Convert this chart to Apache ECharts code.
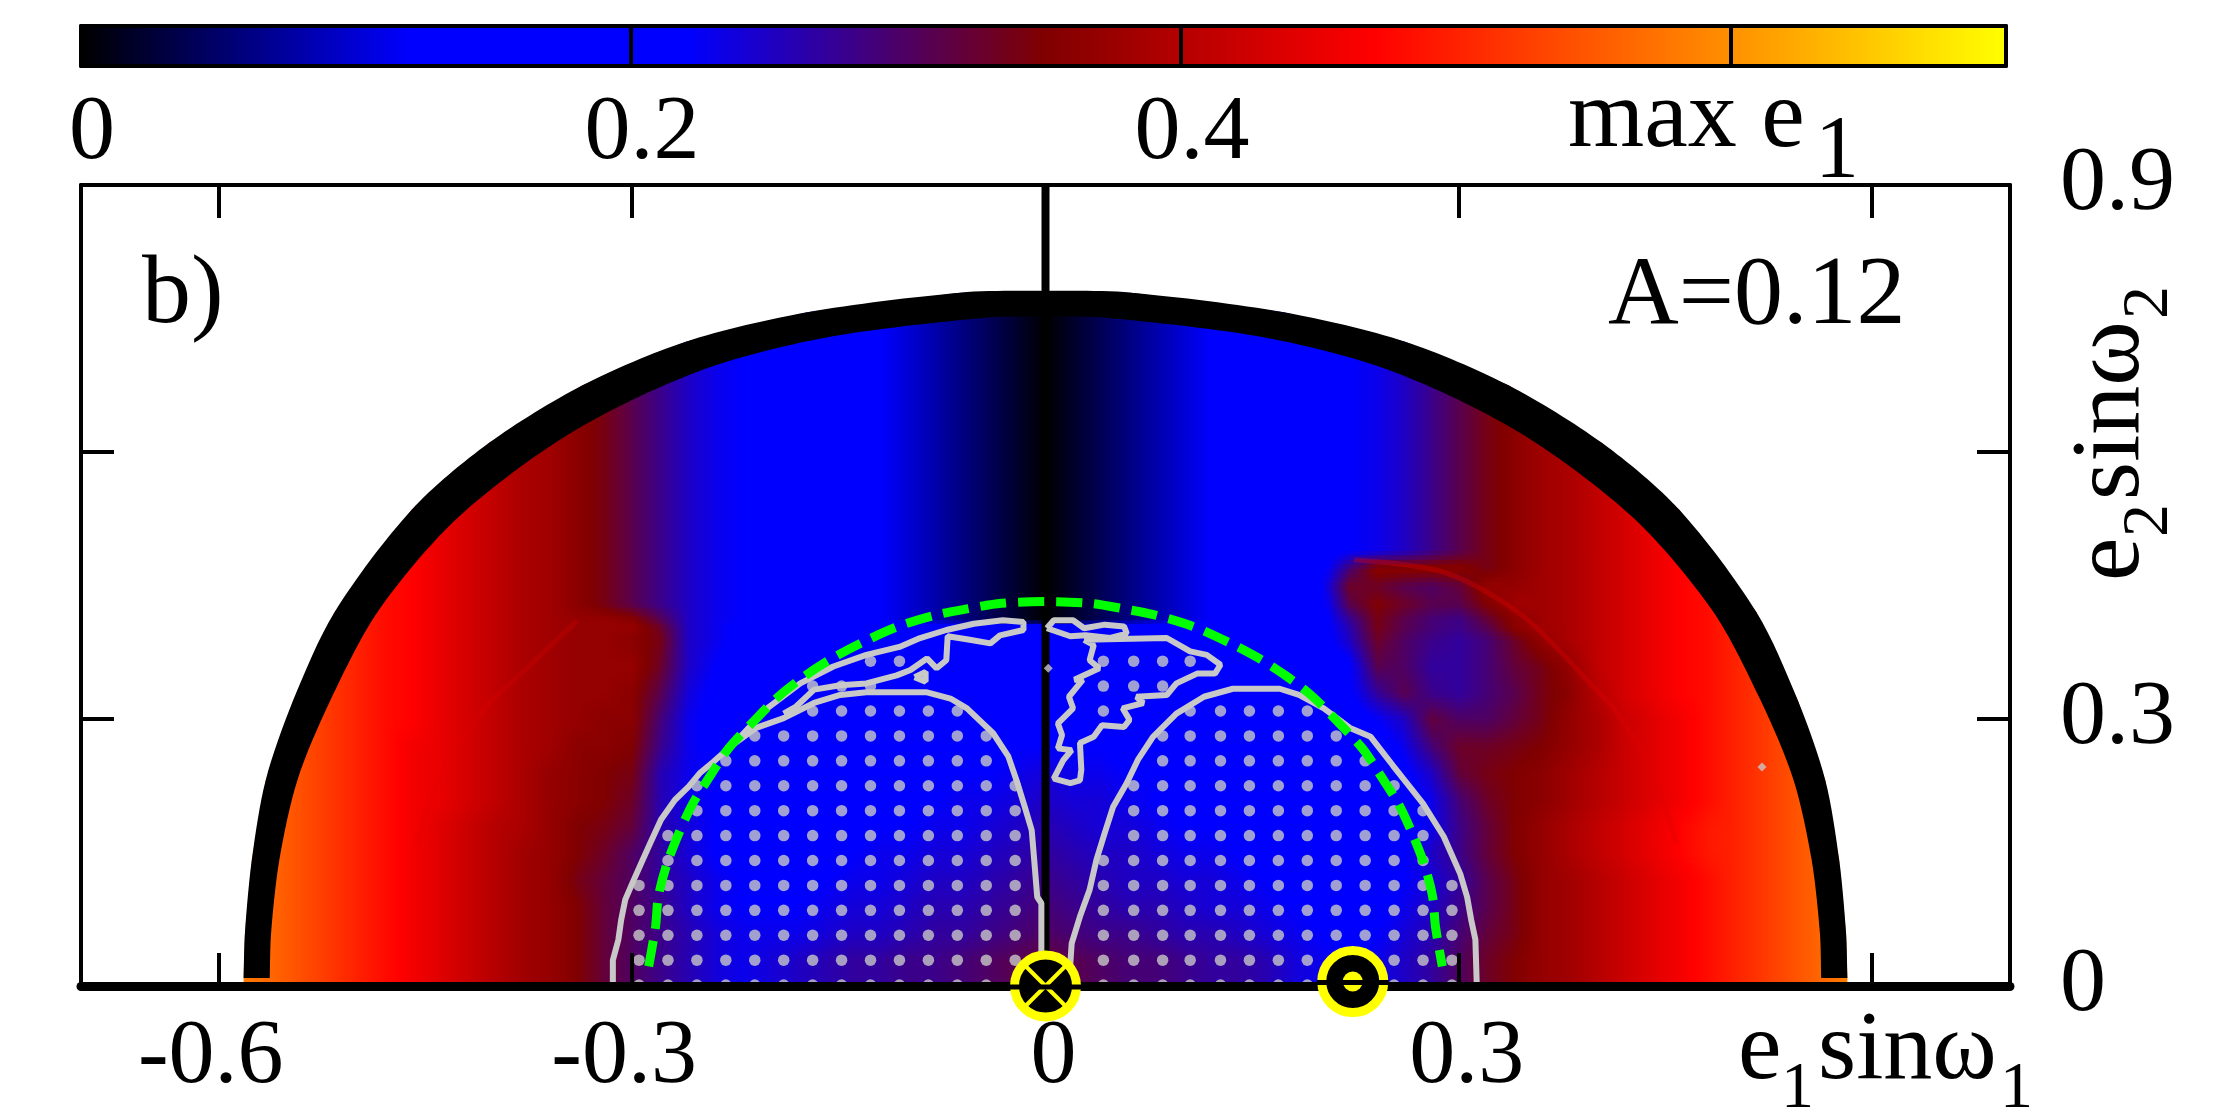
<!DOCTYPE html>
<html>
<head>
<meta charset="utf-8">
<script src="https://cdn.jsdelivr.net/npm/echarts@6/dist/echarts.min.js"></script>
<style>
  html, body { margin: 0; padding: 0; background: #fff; }
  #chart { width: 2222px; height: 1111px; }
</style>
</head>
<body>
<div id="chart"></div>
<script>
  // max e1, in hundredths. Columns are x = -0.60 .. 0.60 by 0.02
  const heatColX = [];
  for (let k = -30; k <= 30; k++) heatColX.push(k / 50);
  const heatRowY = [0, 0.03, 0.06, 0.09, 0.12, 0.15, 0.18, 0.21, 0.24, 0.27, 0.30, 0.33, 0.36, 0.39, 0.404, 0.412, 0.43, 0.45, 0.47, 0.49, 0.79];
  const maxE1Rows = [
    [60,58,56,54,52,50,48,46,44,42, 40,38,37,35,32,30,28,26,24,23, 24,25,26,27,27,28,28,29,30,31, 32, 31,30,29,29,28,27,27,26,24,23, 22,23,25,27,30,33,35,37,38,40, 42,44,46,48,50,52,54,56,58,60],
    [60,58,56,54,52,50,48,46,44,42, 40,38,37,35,32,30,28,26,24,23, 24,25,26,27,27,28,28,29,30,31, 32, 31,30,29,29,28,27,27,26,24,23, 22,23,25,27,30,33,35,37,38,40, 42,44,46,48,50,52,54,56,58,60],
    [60,58,56,54,52,50,48,46,44,42, 40,38,37,35,32,30,28,26,24,23, 23,23,24,25,25,26,27,27,28,29, 30, 29,28,28,27,26,26,25,24,23,22, 21,22,24,26,29,32,34,37,38,40, 42,44,46,48,50,52,54,56,58,60],
    [60,58,56,54,52,50,48,46,44,42, 40,38,37,35,32,30,28,25,23,22, 22,22,23,24,24,25,26,26,27,28, 29, 28,27,26,26,25,24,24,23,22,21, 21,21,23,25,28,31,34,37,38,40, 42,44,46,48,50,52,54,56,58,60],
    [60,58,56,54,52,50,48,46,44,42, 40,38,37,34,32,30,27,25,23,22, 22,22,22,23,23,24,25,25,26,27, 28, 27,26,25,25,24,24,23,22,21,21, 20,21,22,24,27,31,34,37,38,40, 42,44,46,48,50,52,54,56,58,60],
    [60,58,56,54,52,50,48,46,44,42, 40,38,37,35,33,30,27,24,22,21, 21,21,21,22,23,23,24,24,25,26, 27, 26,25,25,24,23,23,22,21,21,20, 20,21,22,25,28,32,35,37,39,41, 43,45,47,49,50,52,54,56,58,60],
    [60,58,56,54,52,50,48,46,44,42, 40,39,37,35,34,32,26,24,22,21, 21,21,21,21,22,22,23,23,24,25, 26, 25,24,24,23,22,22,21,21,20,20, 20,20,21,23,28,32,35,37,39,41, 43,45,47,49,50,52,54,56,58,60],
    [60,58,56,54,52,50,48,46,45,43, 41,39,37,36,35,33,26,23,22,21, 20,20,20,21,21,22,22,23,23,24, 25, 24,24,23,22,22,21,21,20,20,20, 20,20,21,23,29,33,35,36,38,40, 42,44,46,48,50,52,54,56,58,60],
    [60,58,56,54,52,50,48,46,45,43, 41,39,37,36,35,34,26,23,22,21, 20,20,20,20,21,21,21,22,22,23, 24, 23,23,22,22,21,21,20,20,20,20, 20,20,21,25,32,34,35,36,38,40, 42,44,46,48,50,52,54,56,58,60],
    [60,58,56,54,52,50,48,46,45,43, 41,39,38,36,36,35,28,23,21,21, 20,20,20,20,20,20,21,21,21,22, 22, 22,22,21,21,21,20,20,20,20,20, 20,20,23,29,33,33,34,35,37,39, 42,44,46,48,50,52,54,56,58,60],
    [60,58,56,54,52,50,48,47,45,43, 41,39,38,37,36,36,29,23,21,20, 20,20,20,20,20,20,20,20,21,21, 21, 21,21,21,20,20,20,20,20,20,20, 20,22,25,32,30,30,32,34,37,39, 42,44,46,48,50,52,54,56,58,60],
    [60,58,56,54,52,50,48,47,45,43, 41,39,38,37,37,36,31,24,21,20, 19,19,19,19,19,20,20,20,20,20, 20, 20,20,20,20,19,19,19,19,19,20, 21,27,31,28,27,29,31,34,36,40, 43,45,47,48,50,52,54,56,58,60],
    [60,58,56,54,52,50,48,47,45,43, 41,39,38,37,37,37,33,25,22,20, 19,19,19,19,19,19,19,19,19,19, 19, 19,19,19,19,19,19,19,19,19,20, 21,31,30,27,27,29,32,34,37,41, 43,45,47,48,50,52,54,56,58,60],
    [60,58,56,54,52,50,48,47,45,43, 41,39,38,37,37,36,34,25,23,21, 19,19,18,18,18,18,18,18,18,18, 18, 18,18,18,18,18,18,18,19,19,20, 25,33,30,28,27,29,33,37,39,41, 43,45,47,48,50,52,54,56,58,60],
    [60,58,56,54,52,50,48,47,45,43, 41,39,38,37,37,37,33,25,23,21, 19,18,17,16,16,16,16,16,16,16, 16, 16,16,16,16,16,16,17,18,19,20, 26,34,31,29,28,31,36,38,39,41, 43,45,47,48,50,52,54,56,58,60],
    [60,58,56,54,52,50,48,47,45,43, 41,39,38,37,37,36,31,25,23,22, 20,18,16,14,12,10,8,6,4,2, 0, 2,4,6,8,10,12,14,16,18,20, 27,34,31,29,28,32,36,38,39,41, 43,45,47,48,50,52,54,56,58,60],
    [60,58,56,54,52,50,48,47,45,43, 41,39,38,36,34,31,28,25,23,22, 20,18,16,14,12,10,8,6,4,2, 0, 2,4,6,8,10,12,14,16,18,20, 31,35,33,31,31,35,38,38,39,41, 43,45,47,48,50,52,54,56,58,60],
    [60,58,56,54,52,50,48,47,45,43, 41,39,38,36,34,31,28,25,23,22, 20,18,16,14,12,10,8,6,4,2, 0, 2,4,6,8,10,12,14,16,18,21, 33,33,31,30,32,37,37,38,39,41, 43,45,47,48,50,52,54,56,58,60],
    [60,58,56,54,52,50,48,47,45,43, 41,39,38,36,34,31,28,25,23,22, 20,18,16,14,12,10,8,6,4,2, 0, 2,4,6,8,10,12,14,16,18,20, 29,36,36,36,36,34,36,38,39,41, 43,45,47,48,50,52,54,56,58,60],
    [60,58,56,54,52,50,48,47,45,43, 41,39,38,36,34,31,28,25,23,22, 20,18,16,14,12,10,8,6,4,2, 0, 2,4,6,8,10,12,14,16,18,20, 22,23,25,28,31,34,36,38,39,41, 43,45,47,48,50,52,54,56,58,60],
    [60,58,56,54,52,50,48,47,45,43, 41,39,38,36,34,31,28,25,23,22, 20,18,16,14,12,10,8,6,4,2, 0, 2,4,6,8,10,12,14,16,18,20, 22,23,25,28,31,34,36,38,39,41, 43,45,47,48,50,52,54,56,58,60],
  ];

  // thick black boundary: outer and inner edge, left to right
  const boundaryOuter = [[-0.582,0.009],[-0.581,0.060],[-0.576,0.142],[-0.566,0.231],[-0.546,0.321],[-0.516,0.420],[-0.460,0.535],[-0.404,0.610],[-0.336,0.675],[-0.261,0.724],[-0.173,0.757],[-0.062,0.779],[0,0.781],[0.062,0.779],[0.173,0.757],[0.261,0.724],[0.336,0.675],[0.404,0.610],[0.460,0.535],[0.516,0.420],[0.546,0.321],[0.566,0.231],[0.576,0.142],[0.581,0.060],[0.582,0.009]];
  const boundaryInner = [[-0.563,0.009],[-0.562,0.060],[-0.556,0.142],[-0.543,0.231],[-0.519,0.321],[-0.484,0.422],[-0.426,0.527],[-0.344,0.622],[-0.253,0.690],[-0.161,0.728],[-0.042,0.751],[0,0.752],[0.042,0.751],[0.161,0.728],[0.253,0.690],[0.344,0.622],[0.426,0.527],[0.484,0.422],[0.519,0.321],[0.543,0.231],[0.556,0.142],[0.562,0.060],[0.563,0.009]];

  const zeroLine = [[0,0],[0,0.9]];

  const ridgeLeft = [[-0.340,0.410],[-0.376,0.358],[-0.408,0.310],[-0.437,0.243],[-0.456,0.160]];
  const ridgeRight = [[0.224,0.479],[0.291,0.464],[0.347,0.415],[0.402,0.329],[0.412,0.313],[0.439,0.246],[0.458,0.160]];

  // grey contours
  const contourLeftMain = [[-0.314,0.001],[-0.314,0.029],[-0.310,0.052],[-0.308,0.074],[-0.305,0.097],[-0.300,0.115],[-0.294,0.136],[-0.287,0.160],[-0.279,0.187],[-0.269,0.209],[-0.259,0.224],[-0.251,0.239],[-0.241,0.252],[-0.227,0.271],[-0.210,0.290],[-0.190,0.301],[-0.168,0.318],[-0.149,0.327],[-0.130,0.330],[-0.086,0.330],[-0.069,0.323],[-0.057,0.312],[-0.038,0.284],[-0.027,0.258],[-0.021,0.231],[-0.015,0.201],[-0.010,0.175],[-0.008,0.138],[-0.006,0.100],[-0.003,0.093],[-0.003,0.001]];
  const contourLeftUpper = [[-0.227,0.271],[-0.202,0.312],[-0.178,0.340],[-0.154,0.359],[-0.130,0.372],[-0.106,0.381],[-0.091,0.391],[-0.072,0.400],[-0.052,0.407],[-0.031,0.411],[-0.016,0.409],[-0.016,0.400],[-0.033,0.394],[-0.040,0.385],[-0.055,0.389],[-0.071,0.393],[-0.072,0.366],[-0.079,0.357],[-0.086,0.368],[-0.098,0.355],[-0.108,0.349],[-0.130,0.340],[-0.149,0.338],[-0.168,0.333],[-0.181,0.314],[-0.190,0.306]];
  const contourLeftSpeck = [[-0.095,0.347],[-0.087,0.353],[-0.087,0.342],[-0.095,0.347]];
  const contourRightMain = [[0.017,0.001],[0.019,0.048],[0.025,0.078],[0.032,0.108],[0.037,0.142],[0.043,0.172],[0.049,0.201],[0.059,0.228],[0.067,0.254],[0.078,0.280],[0.095,0.306],[0.115,0.325],[0.136,0.334],[0.170,0.334],[0.184,0.327],[0.202,0.312],[0.221,0.290],[0.236,0.280],[0.252,0.248],[0.274,0.205],[0.289,0.168],[0.301,0.126],[0.306,0.100],[0.309,0.074],[0.312,0.052],[0.313,0.001]];
  const contourRightTop = [[0.001,0.402],[0.006,0.411],[0.020,0.411],[0.028,0.402],[0.043,0.406],[0.057,0.404],[0.059,0.396],[0.047,0.391],[0.029,0.394],[0.018,0.393],[0.001,0.402]];
  const contourRightIsland = [[0.028,0.389],[0.088,0.391],[0.105,0.376],[0.117,0.372],[0.127,0.361],[0.123,0.351],[0.110,0.351],[0.095,0.340],[0.088,0.327],[0.066,0.325],[0.071,0.318],[0.056,0.312],[0.061,0.299],[0.057,0.291],[0.041,0.293],[0.035,0.280],[0.025,0.273],[0.026,0.243],[0.025,0.231],[0.018,0.228],[0.006,0.233],[0.013,0.254],[0.019,0.265],[0.009,0.267],[0.012,0.282],[0.009,0.295],[0.020,0.312],[0.017,0.325],[0.027,0.344],[0.021,0.344],[0.039,0.357],[0.032,0.366],[0.035,0.383],[0.028,0.389]];
  const contours = [contourLeftMain, contourLeftUpper, contourLeftSpeck, contourRightMain, contourRightTop, contourRightIsland];

  // dots of the stable grid: columns, rows, and which columns each row fills
  const dotX = [-0.295,-0.274,-0.253,-0.232,-0.211,-0.190,-0.169,-0.148,-0.127,-0.106,-0.085,-0.064,-0.043,-0.022,0.042,0.064,0.085,0.105,0.127,0.148,0.169,0.190,0.211,0.232,0.253,0.274,0.295];
  const dotY = [0.001,0.029,0.057,0.085,0.113,0.141,0.169,0.197,0.225,0.253,0.281,0.309,0.337,0.365];
  const dotSpans = [
    [[0,26]],
    [[0,26]],
    [[0,26]],
    [[0,26]],
    [[0,26]],
    [[1,25]],
    [[1,13],[15,25]],
    [[2,13],[15,25]],
    [[2,13],[15,24]],
    [[3,12],[16,23]],
    [[4,12],[16,22]],
    [[6,11],[14,14],[17,21]],
    [[6,8],[14,16]],
    [[8,9],[14,17]],
  ];
  const specks = [[0.002,0.357],[0.520,0.246]];

  const greenLeft = [[-0.288,0.022],[-0.283,0.067],[-0.281,0.100],[-0.275,0.136],[-0.266,0.172],[-0.256,0.205],[-0.243,0.237],[-0.230,0.267],[-0.212,0.297],[-0.194,0.325],[-0.175,0.348],[-0.155,0.368],[-0.133,0.386],[-0.107,0.404],[-0.079,0.417],[-0.056,0.424],[-0.032,0.430],[0,0.432]];
  const greenRight = [[0.032,0.430],[0.056,0.424],[0.079,0.417],[0.107,0.404],[0.133,0.386],[0.155,0.368],[0.175,0.348],[0.194,0.325],[0.212,0.297],[0.230,0.267],[0.243,0.237],[0.256,0.205],[0.266,0.172],[0.275,0.136],[0.281,0.100],[0.283,0.067],[0.288,0.022]];

  const planets = [[0,0,0],[0.223,0.005,1]];

  const xTicks = [-0.6,-0.3,0,0.3,0.6];
  const xLabels = [-0.6,-0.3,0,0.3];
  const yLabels = { 0: '0', 0.3: '0.3', 0.9: '0.9' };
  const barTicks = [0.2,0.4,0.6];
  const barLabels = [0,0.2,0.4];

  const serif = 'Liberation Serif';
  const titleFont = '98px "Liberation Serif"';
  const subFont = '66px "Liberation Serif"';

  // colour map of the bar on top
  const cmap = [[0,[0,0,0]],[0.12,[0,0,255]],[0.22,[0,0,255]],[0.35,[128,0,0]],[0.47,[255,0,0]],[0.7,[255,255,0]]];
  function levelColor(v) {
    let k = 1;
    while (k < cmap.length - 1 && v > cmap[k][0]) k++;
    const a = cmap[k - 1], b = cmap[k];
    const t = Math.max(0, Math.min(1, (v - a[0]) / (b[0] - a[0])));
    const c = [0, 1, 2].map((n) => Math.round(a[1][n] + (b[1][n] - a[1][n]) * t));
    return 'rgb(' + c.join(',') + ')';
  }
  function levelGradient(v0, v1) {
    const stops = [];
    for (let n = 0; n <= 4; n++) stops.push({ offset: n / 4, color: levelColor(v0 + (v1 - v0) * n / 4) });
    return new echarts.graphic.LinearGradient(0, 0, 1, 0, stops);
  }

  const heatCells = [];
  for (let j = 0; j < heatRowY.length - 1; j++) {
    for (let i = 0; i < heatColX.length - 1; i++) {
      heatCells.push([heatColX[i], heatRowY[j], maxE1Rows[j][i] / 100, i, j]);
    }
  }
  function renderHeatCell(params, api) {
    const i = api.value(3), j = api.value(4);
    const a = api.coord([heatColX[i], heatRowY[j]]);
    const b = api.coord([heatColX[i + 1], heatRowY[j + 1]]);
    const h = a[1] - b[1];
    const strips = Math.min(6, Math.ceil(h / 5));
    const children = [];
    for (let s = 0; s < strips; s++) {
      const t = (s + 0.5) / strips;
      const vl = (maxE1Rows[j][i] * (1 - t) + maxE1Rows[j + 1][i] * t) / 100;
      const vr = (maxE1Rows[j][i + 1] * (1 - t) + maxE1Rows[j + 1][i + 1] * t) / 100;
      children.push({
        type: 'rect',
        shape: { x: a[0], y: a[1] - h * (s + 1) / strips, width: b[0] - a[0] + 1, height: h / strips + 1 },
        style: { fill: levelGradient(vl, vr) },
      });
    }
    return { type: 'group', children };
  }

  // white over everything outside the outer edge
  function renderMask(params, api) {
    const pts = [[-0.582,0]].concat(boundaryOuter, [[0.582,0],[0.7,0],[0.7,0.9],[-0.7,0.9],[-0.7,0]]);
    return { type: 'polygon', shape: { points: pts.map((p) => api.coord(p)) }, style: { fill: '#fff' } };
  }

  function renderBoundary(params, api) {
    const first = boundaryInner[boundaryInner.length - 1];
    const last = boundaryInner[0];
    const pts = [boundaryOuter[0]].concat(boundaryOuter, [boundaryOuter[boundaryOuter.length - 1], first], boundaryInner.slice().reverse(), [last]);
    return { type: 'polygon', shape: { points: pts.map((p) => api.coord(p)), smooth: 0.3 }, style: { fill: '#000' } };
  }

  const barCells = [];
  for (let k = 0; k < 140; k++) barCells.push([k / 200, 0]);
  function renderBarCell(params, api) {
    const v = api.value(0);
    const a = api.coord([v, 0]);
    const b = api.coord([v + 0.005, 1]);
    return {
      type: 'rect',
      shape: { x: a[0], y: b[1], width: b[0] - a[0] + 1, height: a[1] - b[1] },
      style: { fill: levelGradient(v, v + 0.005) },
    };
  }

  function renderPlanet(params, api) {
    const c = api.coord([api.value(0), api.value(1)]);
    const kind = api.value(2);
    const children = [
      { type: 'circle', shape: { cx: c[0], cy: c[1], r: 31 }, style: { fill: '#000', stroke: '#ff0', lineWidth: 9 } },
    ];
    const yellow = { stroke: '#ff0', lineWidth: 4 };
    if (kind === 0) {
      children.push({ type: 'line', shape: { x1: c[0] - 20, y1: c[1] - 20, x2: c[0] + 20, y2: c[1] + 20 }, style: yellow });
      children.push({ type: 'line', shape: { x1: c[0] - 20, y1: c[1] + 20, x2: c[0] + 20, y2: c[1] - 20 }, style: yellow });
    } else {
      children.push({ type: 'circle', shape: { cx: c[0], cy: c[1], r: 10 }, style: { fill: '#ff0' } });
    }
    children.push({ type: 'line', shape: { x1: c[0] - 36, y1: c[1] + 1, x2: c[0] + 36, y2: c[1] + 1 }, style: { stroke: '#000', lineWidth: 5 } });
    return { type: 'group', children };
  }

  const dotPoints = [];
  dotSpans.forEach((spans, r) => {
    spans.forEach((span) => {
      for (let c = span[0]; c <= span[1]; c++) dotPoints.push([dotX[c], dotY[r]]);
    });
  });

  function frameAxis(extra) {
    return Object.assign({
      type: 'value',
      silent: true,
      z: 10,
      splitLine: { show: false },
      axisLine: { show: true, onZero: false, lineStyle: { color: '#000', width: 4 } },
    }, extra);
  }

  const mainX = { min: -0.7, max: 0.7, gridIndex: 0 };
  const mainY = { min: 0, max: 0.9, interval: 0.3, gridIndex: 0 };
  const mainTick = { show: true, inside: true, length: 33, lineStyle: { color: '#000', width: 4 } };
  const barX = { min: 0, max: 0.7, gridIndex: 1 };
  const barY = { min: 0, max: 1, gridIndex: 1, axisTick: { show: false }, axisLabel: { show: false } };

  function textItem(x, y, text, itemFont, rotation) {
    return { type: 'text', z: 30, x, y, rotation: rotation || 0, style: { text, font: itemFont, fill: '#000', textVerticalAlign: 'middle' } };
  }

  const option = {
    animation: false,
    backgroundColor: '#fff',
    grid: [
      { left: 81, top: 185, width: 1929, height: 801 },
      { left: 81, top: 26, width: 1925, height: 40 },
    ],
    xAxis: [
      frameAxis(Object.assign({
        position: 'bottom',
        axisLine: { show: true, onZero: false, lineStyle: { color: '#000', width: 9 } },
        axisTick: Object.assign({ customValues: xTicks }, mainTick),
        axisLabel: {
          customValues: xLabels,
          margin: 26,
          fontFamily: serif,
          fontSize: 92,
          color: '#000',
          alignMinLabel: 'center',
          formatter: (v) => (v < 0 ? '{neg|' + v + '}' : '{pos|' + v + '}'),
          rich: {
            neg: { fontFamily: serif, fontSize: 92, color: '#000', padding: [0, 16, 0, 0] },
            pos: { fontFamily: serif, fontSize: 92, color: '#000', padding: [0, 0, 0, 16] },
          },
        },
      }, mainX)),
      frameAxis(Object.assign({
        position: 'top',
        axisTick: Object.assign({ customValues: xTicks }, mainTick),
        axisLabel: { show: false },
      }, mainX)),
      frameAxis(Object.assign({
        position: 'bottom',
        axisTick: { show: true, inside: true, length: 38, customValues: barTicks, lineStyle: { color: '#000', width: 4 } },
        axisLabel: {
          customValues: barLabels,
          margin: 22,
          fontFamily: serif,
          fontSize: 92,
          color: '#000',
          alignMinLabel: 'center',
          padding: [0, 0, 0, 22],
          formatter: (v) => String(v),
        },
      }, barX)),
      frameAxis(Object.assign({ position: 'top', axisTick: { show: false }, axisLabel: { show: false } }, barX)),
    ],
    yAxis: [
      frameAxis(Object.assign({
        position: 'right',
        axisTick: mainTick,
        axisLabel: {
          margin: 50,
          fontFamily: serif,
          fontSize: 92,
          color: '#000',
          align: 'left',
          padding: [6, 0, 0, 0],
          formatter: (v) => yLabels[v] || '',
        },
      }, mainY)),
      frameAxis(Object.assign({ position: 'left', axisTick: mainTick, axisLabel: { show: false } }, mainY)),
      frameAxis(Object.assign({ position: 'left' }, barY)),
      frameAxis(Object.assign({ position: 'right' }, barY)),
    ],
    series: [
      { type: 'custom', name: 'max e1', xAxisIndex: 0, yAxisIndex: 0, z: 1, silent: true, progressive: 0, clip: true, renderItem: renderHeatCell, encode: { x: 0, y: 1 }, data: heatCells },
      { type: 'line', name: 'ridge left', xAxisIndex: 0, yAxisIndex: 0, z: 1.5, silent: true, smooth: 0.3, symbol: 'none', lineStyle: { color: '#e00000', width: 5, opacity: 0.25 }, data: ridgeLeft },
      { type: 'line', name: 'ridge right', xAxisIndex: 0, yAxisIndex: 0, z: 1.5, silent: true, smooth: 0.3, symbol: 'none', lineStyle: { color: '#e00000', width: 5, opacity: 0.35 }, data: ridgeRight },
      { type: 'custom', name: 'outside', xAxisIndex: 0, yAxisIndex: 0, z: 2, silent: true, renderItem: renderMask, data: [[0, 0]] },
      { type: 'custom', name: 'boundary', xAxisIndex: 0, yAxisIndex: 0, z: 3, silent: true, renderItem: renderBoundary, data: [[0, 0]] },
      { type: 'line', name: 'zero', xAxisIndex: 0, yAxisIndex: 0, z: 4, silent: true, symbol: 'none', lineStyle: { color: '#000', width: 8 }, data: zeroLine },
      ...contours.map((c, n) => ({ type: 'line', name: 'contour ' + n, xAxisIndex: 0, yAxisIndex: 0, z: 5, silent: true, symbol: 'none', lineStyle: { color: '#c8c8c8', width: 6 }, data: c })),
      { type: 'scatter', name: 'dots', xAxisIndex: 0, yAxisIndex: 0, z: 5, silent: true, symbol: 'circle', symbolSize: 11.5, itemStyle: { color: '#c8c8c8' }, data: dotPoints },
      { type: 'scatter', name: 'specks', xAxisIndex: 0, yAxisIndex: 0, z: 5, silent: true, symbol: 'diamond', symbolSize: 9, itemStyle: { color: '#c8c8c8' }, data: specks },
      { type: 'line', name: 'hill', xAxisIndex: 0, yAxisIndex: 0, z: 6, silent: true, smooth: 0.3, symbol: 'none', lineStyle: { color: '#00ff00', width: 9, type: [26, 12], cap: 'butt' }, data: greenLeft.concat(greenRight) },
      { type: 'custom', name: 'planets', xAxisIndex: 0, yAxisIndex: 0, z: 20, silent: true, clip: false, renderItem: renderPlanet, encode: { x: 0, y: 1 }, data: planets },
      { type: 'custom', name: 'color bar', xAxisIndex: 2, yAxisIndex: 2, z: 1, silent: true, progressive: 0, renderItem: renderBarCell, encode: { x: 0, y: 1 }, data: barCells },
    ],
    graphic: [
      textItem(142, 296, 'b)', titleFont),
      textItem(1608, 297, 'A=0.12', titleFont),
      textItem(1568, 120, 'max e', titleFont),
      textItem(1815, 153, '1', '88px "Liberation Serif"'),
      textItem(1738, 1052, 'e', titleFont),
      textItem(1781, 1090, '1', subFont),
      textItem(1818, 1052, 'sinω', titleFont),
      textItem(2000, 1090, '1', subFont),
      textItem(2112, 581, 'e', titleFont, Math.PI / 2),
      textItem(2150, 537, '2', subFont, Math.PI / 2),
      textItem(2112, 500, 'sinω', titleFont, Math.PI / 2),
      textItem(2150, 319, '2', subFont, Math.PI / 2),
    ],
  };

  const chart = echarts.init(document.getElementById('chart'), null, { renderer: 'canvas' });
  chart.setOption(option);
</script>
</body>
</html>
